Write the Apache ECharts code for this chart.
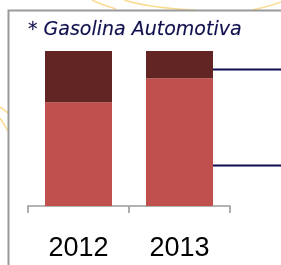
<!DOCTYPE html>
<html>
<head>
<meta charset="utf-8">
<script src="https://cdn.jsdelivr.net/npm/echarts@6/dist/echarts.min.js"></script>
<style>
html,body{margin:0;padding:0;background:#fff;}
#chart{width:281px;height:265px;}
</style>
</head>
<body>
<div id="chart"></div>
<script>
var categories = ['2012', '2013'];
var lowerShare = [67, 82.5];
var upperShare = [33, 17.5];
var leaderLevels = [88.4, 26.5];
var titleText = '* Gasolina Automotiva';

var chart = echarts.init(document.getElementById('chart'), null, {renderer: 'canvas'});

var option = {
  animation: false,
  backgroundColor: '#ffffff',
  title: {
    text: titleText,
    left: 23,
    top: 16,
    textStyle: {
      fontFamily: 'DejaVu Sans',
      fontStyle: 'italic',
      fontWeight: 'normal',
      fontSize: 19,
      color: '#10104e',
      textBorderColor: 'rgba(16,16,78,0.35)',
      textBorderWidth: 0.4
    }
  },
  grid: {left: 28, right: 51, top: 51, bottom: 59},
  xAxis: {
    type: 'category',
    data: categories,
    axisLine: {lineStyle: {color: '#9a9a9a', width: 1.6}},
    axisTick: {show: true, length: 7, lineStyle: {color: '#9a9a9a', width: 1.6}},
    axisLabel: {
      margin: 29,
      fontFamily: 'Liberation Sans',
      fontSize: 27,
      color: '#000000'
    }
  },
  yAxis: {
    type: 'value',
    min: 0,
    max: 100,
    show: false,
    splitLine: {show: false}
  },
  series: [
    {
      type: 'bar',
      stack: 'total',
      data: lowerShare,
      barWidth: 67,
      itemStyle: {color: '#c0504d'}
    },
    {
      type: 'bar',
      stack: 'total',
      data: upperShare,
      barWidth: 67,
      itemStyle: {color: '#632523'}
    }
  ]
};

chart.setOption(option);

// Decorative frame and background arcs, plus leader lines from the 2013 bar
var decor = [
  {type: 'bezierCurve', z: 0, shape: {x1: 92, y1: 0, x2: 116, y2: 9, cpx1: 100, cpy1: 4}, style: {stroke: '#fbdc93', lineWidth: 1.6, fill: null}},
  {type: 'bezierCurve', z: 0, shape: {x1: 124, y1: 0, x2: 195, y2: 10, cpx1: 150, cpy1: 8}, style: {stroke: '#fbdc93', lineWidth: 1.6, fill: null}},
  {type: 'bezierCurve', z: 0, shape: {x1: 252, y1: 10, x2: 281, y2: 2, cpx1: 268, cpy1: 7}, style: {stroke: '#fbdc93', lineWidth: 1.6, fill: null}},
  {type: 'line', z: 0, shape: {x1: 0, y1: 107, x2: 8, y2: 113}, style: {stroke: '#fbdc93', lineWidth: 1.6}},
  {type: 'line', z: 0, shape: {x1: 0, y1: 118, x2: 8, y2: 131}, style: {stroke: '#fbdc93', lineWidth: 1.6}},
  {type: 'polyline', z: 1, shape: {points: [[8.5, 266], [8.5, 10.5], [282, 10.5]]}, style: {stroke: '#9a9a9a', lineWidth: 2, fill: null}}
];

var barRight = chart.convertToPixel({gridIndex: 0}, ['2013', 0])[0] + 67 / 2;
leaderLevels.forEach(function (v) {
  var y = Math.round(chart.convertToPixel({gridIndex: 0}, ['2013', v])[1]) + 0.5;
  decor.push({
    type: 'line', z: 5,
    shape: {x1: barRight, y1: y, x2: 281, y2: y},
    style: {stroke: '#0c0c4e', lineWidth: 1.8}
  });
});

chart.setOption({graphic: decor});
</script>
</body>
</html>
